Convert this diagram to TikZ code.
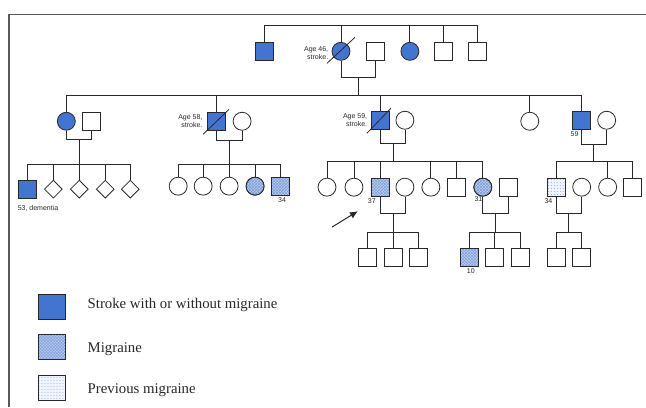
\documentclass[tikz,border=0pt]{standalone}
\usepackage{fontspec}
\setmainfont{Liberation Serif}
\newfontfamily\labfont{Liberation Sans}
\usetikzlibrary{patterns,shapes.geometric,arrows.meta}
\definecolor{strokeblue}{RGB}{66,116,208}
\definecolor{miglight}{RGB}{186,204,240}
\definecolor{migdark}{RGB}{120,152,214}
\definecolor{prevlight}{RGB}{240,244,252}
\definecolor{prevdot}{RGB}{140,168,222}
\definecolor{ink}{RGB}{40,40,40}
\begin{document}
\begin{tikzpicture}[x=1pt,y=-1pt,
  every path/.style={line width=0.8pt, draw=ink},
  male/.style={draw=ink, rectangle, minimum size=18pt, inner sep=0pt, line width=0.8pt},
  female/.style={draw=ink, circle, minimum size=18pt, inner sep=0pt, line width=0.8pt},
  unk/.style={draw=ink, diamond, minimum size=18pt, inner sep=0pt, line width=0.8pt},
  strk/.style={fill=strokeblue},
  migr/.style={preaction={fill=miglight}, pattern=crosshatch, pattern color=migdark},
  prevm/.style={preaction={fill=prevlight}, pattern=dots, pattern color=prevdot},
  lab/.style={font=\labfont\fontsize{7}{8.5}\selectfont, inner sep=0pt, text=ink},
  agelab/.style={lab, align=right, anchor=east},
  legtxt/.style={font=\fontsize{14.8}{16}\selectfont, inner sep=0pt, anchor=west, text=ink},
  legbox/.style={draw=ink, line width=1pt, minimum width=27pt, minimum height=25pt, inner sep=0pt}
]
\useasboundingbox (0,0) rectangle (646,407);
\fill[white] (0,0) rectangle (646,407);
\draw[line width=1.5pt, draw=black!65] (8.5,407) -- (8.5,14) -- (646,14);

% ---------- generation 1
\node[male,strk]   (g1a) at (264,51) {};
\node[female,strk] (g1b) at (341,51) {};
\node[male]        (g1c) at (375,51) {};
\node[female,strk] (g1d) at (410,51) {};
\node[male]        (g1e) at (444,51) {};
\node[male]        (g1f) at (478,51) {};
\coordinate (s1) at (0,25);
\draw (g1a.north) -- (g1a.north |- s1) -- (g1f.north |- s1) -- (g1f.north);
\foreach \n in {g1b,g1d,g1e} \draw (\n.north) -- (\n.north |- s1);
\coordinate (m1) at (0,77);
\draw (g1b.south) -- (g1b.south |- m1) -- (g1c.south |- m1) -- (g1c.south);
\coordinate (d1) at (358,77);
\draw ([shift={(-14,12)}]g1b.center) -- ([shift={(14,-14)}]g1b.center);
\node[agelab] (t46) at ([xshift=-3pt,yshift=-2pt]g1b.west) {Age 46,\\stroke.};

% ---------- generation 2
\coordinate (s2) at (0,95);
\node[female,strk] (g2a) at (66,121) {};
\node[male]        (g2b) at (91,121) {};
\node[male,strk]   (g2c) at (216,121) {};
\node[female]      (g2d) at (242,121) {};
\node[male,strk]   (g2e) at (380,120) {};
\node[female]      (g2f) at (405,120) {};
\node[female]      (g2g) at (530,121) {};
\node[male,strk]   (g2h) at (582,120) {};
\node[female]      (g2i) at (607,120) {};
\draw (d1) -- (d1 |- s2);
\draw (g2a.north) -- (g2a.north |- s2) -- (g2h.north |- s2) -- (g2h.north);
\foreach \n in {g2c,g2e,g2g} \draw (\n.north) -- (\n.north |- s2);
\draw ([shift={(-13,13)}]g2c.center) -- ([shift={(13,-12)}]g2c.center);
\draw ([shift={(-13,13)}]g2e.center) -- ([shift={(11,-12)}]g2e.center);
\node[agelab] (t58) at ([xshift=-4pt]g2c.west) {Age 58,\\stroke.};
\node[agelab] (t59) at ([xshift=-3pt]g2e.west) {Age 59,\\stroke.};
\node[lab,anchor=north west] (t59b) at ([xshift=-2pt,yshift=-2pt]g2h.south west) {59};

% marriages gen 2
\coordinate (mA) at (0,139);
\draw (g2a.south) -- (g2a.south |- mA) -- (g2b.south |- mA) -- (g2b.south);
\coordinate (dA) at (79,139);
\coordinate (mB) at (0,140);
\draw (g2c.south) -- (g2c.south |- mB) -- (g2d.south |- mB) -- (g2d.south);
\coordinate (dB) at (229,140);
\coordinate (mC) at (0,143);
\draw (g2e.south) -- (g2e.south |- mC) -- (g2f.south |- mC) -- (g2f.south);
\coordinate (dC) at (393,143);
\coordinate (mE) at (0,144);
\draw (g2h.south) -- (g2h.south |- mE) -- (g2i.south |- mE) -- (g2i.south);
\coordinate (dE) at (594,144);

% ---------- generation 3, family A
\coordinate (sA) at (0,164);
\node[male,strk] (a1) at (27,189) {};
\node[unk] (a2) at (53,189) {};
\node[unk] (a3) at (79,189) {};
\node[unk] (a4) at (105,189) {};
\node[unk] (a5) at (130,189) {};
\draw (dA) -- (dA |- sA);
\draw (a1.north) -- (a1.north |- sA) -- (a5.north |- sA) -- (a5.north);
\foreach \n in {a2,a3,a4} \draw (\n.north) -- (\n.north |- sA);
\node[lab,anchor=north west] (t53) at (17,205) {53, dementia};

% family B
\coordinate (sB) at (0,164);
\node[female] (b1) at (178,186) {};
\node[female] (b2) at (203,186) {};
\node[female] (b3) at (229,186) {};
\node[female,migr] (b4) at (255,186) {};
\node[male,migr] (b5) at (280,186) {};
\draw (dB) -- (dB |- sB);
\draw (b1.north) -- (b1.north |- sB) -- (b5.north |- sB) -- (b5.north);
\foreach \n in {b2,b3,b4} \draw (\n.north) -- (\n.north |- sB);
\node[lab,anchor=north] (t34a) at ([xshift=2pt,yshift=-2pt]b5.south) {34};

% family C
\coordinate (sC) at (0,161);
\node[female] (c1) at (327,187) {};
\node[female] (c2) at (354,187) {};
\node[male,migr] (c3) at (380,187) {};
\node[female] (c3s) at (405,187) {};
\node[female] (c4) at (431,187) {};
\node[male] (c5) at (457,187) {};
\node[female,migr] (c6) at (483,187) {};
\node[male] (c6s) at (509,187) {};
\draw (dC) -- (dC |- sC);
\draw (c1.north) -- (c1.north |- sC) -- (c6.north |- sC) -- (c6.north);
\foreach \n in {c2,c3,c4,c5} \draw (\n.north) -- (\n.north |- sC);
\node[lab,anchor=north west] (t37) at ([xshift=-3pt,yshift=-2pt]c3.south west) {37};
\node[lab,anchor=north west] (t31) at ([xshift=-2pt,yshift=-2pt]c6.south west) {31};

% family E
\coordinate (sE) at (0,161);
\node[male,prevm] (e1) at (557,187) {};
\node[female] (e1s) at (582,187) {};
\node[female] (e2) at (608,187) {};
\node[male] (e3) at (633,187) {};
\draw (dE) -- (dE |- sE);
\draw (e1.north) -- (e1.north |- sE) -- (e3.north |- sE) -- (e3.north);
\draw (e2.north) -- (e2.north |- sE);
\node[lab,anchor=north east] (t34b) at ([xshift=-4pt,yshift=-2pt]e1.south) {34};

% ---------- generation 4
\coordinate (m4) at (0,213);
\coordinate (s4) at (0,232);
\draw (c3.south) -- (c3.south |- m4) -- (c3s.south |- m4) -- (c3s.south);
\draw (c6.south) -- (c6.south |- m4) -- (c6s.south |- m4) -- (c6s.south);
\draw (e1.south) -- (e1.south |- m4) -- (e1s.south |- m4) -- (e1s.south);
\coordinate (d4a) at (393,213);
\coordinate (d4b) at (496,213);
\coordinate (d4c) at (569,213);
\node[male] (k1) at (367,257) {};
\node[male] (k2) at (393,257) {};
\node[male] (k3) at (419,257) {};
\node[male,migr] (k4) at (470,257) {};
\node[male] (k5) at (495,257) {};
\node[male] (k6) at (521,257) {};
\node[male] (k7) at (557,257) {};
\node[male] (k8) at (582,257) {};
\draw (d4a) -- (d4a |- s4);
\draw (k1.north) -- (k1.north |- s4) -- (k3.north |- s4) -- (k3.north);
\draw (k2.north) -- (k2.north |- s4);
\draw (d4b) -- (d4b |- s4);
\draw (k4.north) -- (k4.north |- s4) -- (k6.north |- s4) -- (k6.north);
\draw (k5.north) -- (k5.north |- s4);
\draw (d4c) -- (d4c |- s4);
\draw (k7.north) -- (k7.north |- s4) -- (k8.north |- s4) -- (k8.north);
\node[lab,anchor=north] (t10) at ([xshift=1pt,yshift=-2pt]k4.south) {10};

% arrow
\coordinate (arT) at (332,227);
\coordinate (arH) at (358,211);
\draw[line width=1pt, -{Latex[length=8pt,width=7pt]}] (arT) -- (arH);

% ---------- legend
\node[legbox,strk] (l1) at (52,307) {};
\node[legbox,migr] (l2) at (52,347) {};
\node[legbox,prevm] (l3) at (52,388) {};
\node[legtxt] (lt1) at (87,305) {Stroke with or without migraine};
\node[legtxt] (lt2) at (87,349) {Migraine};
\node[legtxt] (lt3) at (87,390) {Previous migraine};
\end{tikzpicture}
\end{document}
